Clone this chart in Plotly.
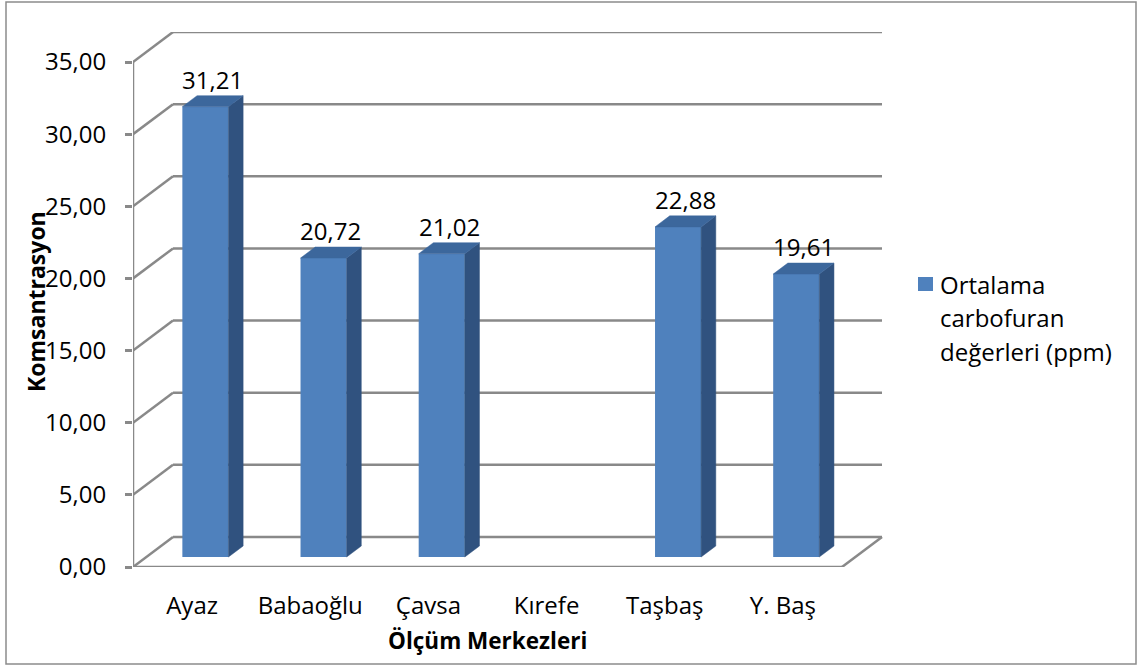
import plotly.graph_objects as go

# ---- data -------------------------------------------------------------
stations = ["Ayaz", "Babaoğlu", "Çavsa", "Kırefe", "Taşbaş", "Y. Baş"]
carbofuran = [31.21, 20.72, 21.02, None, 22.88, 19.61]
y_ticks = [0, 5, 10, 15, 20, 25, 30, 35]
legend_lines = ["Ortalama", "carbofuran", "değerleri (ppm)"]

# ---- pseudo-3D projection (axis units) ---------------------------------
PX_PER_CAT = 709 / 6          # horizontal pixels per category on the front plane
PX_PER_UNIT = 505 / 35        # vertical pixels per value unit
DEPTH_X = 40 / PX_PER_CAT     # shift of the back wall, x
DEPTH_Y = 30 / PX_PER_UNIT    # shift of the back wall, y
BAR_FRONT = 0.333             # depth fraction of bar front faces
BAR_BACK = 0.70               # depth fraction of bar back faces
BAR_W = 0.39                  # bar width in category units

# plot area in pixels
L, R, T, B = 133, 883, 32, 567


def px_x(p):
    return (p - L) / (R - L)


def px_y(p):
    return (B - p) / (B - T)


FONT = "Open Sans"
GRID = "#898989"
FRONT = "#4F81BD"
SIDE = "#30527F"
TOP = "#3C679C"

n = len(stations)
fx, fy = BAR_FRONT * DEPTH_X, BAR_FRONT * DEPTH_Y
bdx, bdy = (BAR_BACK - BAR_FRONT) * DEPTH_X, (BAR_BACK - BAR_FRONT) * DEPTH_Y

fig = go.Figure()

# front faces
xs = [i + 0.5 + fx for i in range(n)]
fig.add_trace(go.Bar(
    x=xs, y=carbofuran, base=fy, width=BAR_W,
    marker=dict(color=FRONT, line=dict(width=0)),
    name=" ".join(legend_lines), showlegend=False, hoverinfo="skip",
))

# side and top faces
side_x, side_y, top_x, top_y = [], [], [], []
for xc, v in zip(xs, carbofuran):
    if v is None:
        continue
    xl, xr = xc - BAR_W / 2, xc + BAR_W / 2
    y0, y1 = fy, fy + v
    side_x += [xr, xr, xr + bdx, xr + bdx, xr, None]
    side_y += [y0, y1, y1 + bdy, y0 + bdy, y0, None]
    top_x += [xl, xr, xr + bdx, xl + bdx, xl, None]
    top_y += [y1, y1, y1 + bdy, y1 + bdy, y1, None]

fig.add_trace(go.Scatter(x=side_x, y=side_y, mode="lines", fill="toself",
                         fillcolor=SIDE, line=dict(width=0.5, color=SIDE),
                         showlegend=False, hoverinfo="skip"))
fig.add_trace(go.Scatter(x=top_x, y=top_y, mode="lines", fill="toself",
                         fillcolor=TOP, line=dict(width=0.5, color=TOP),
                         showlegend=False, hoverinfo="skip"))

# walls, floor and gridlines
shapes = []
line = dict(color=GRID, width=2.5)
for t in y_ticks:
    shapes.append(dict(type="line", xref="x", yref="y", layer="below",
                       x0=0, y0=t, x1=DEPTH_X, y1=t + DEPTH_Y, line=line))
    shapes.append(dict(type="line", xref="x", yref="y", layer="below",
                       x0=DEPTH_X, y0=t + DEPTH_Y, x1=n + DEPTH_X, y1=t + DEPTH_Y,
                       line=line))
shapes.append(dict(type="line", xref="x", yref="y", layer="below",
                   x0=0, y0=0, x1=n, y1=0, line=line))
shapes.append(dict(type="line", xref="x", yref="y", layer="below",
                   x0=n, y0=0, x1=n + DEPTH_X, y1=DEPTH_Y, line=line))
shapes.append(dict(type="line", xref="x", yref="y", layer="below",
                   x0=0, y0=0, x1=0, y1=max(y_ticks), line=line))
# chart frame
shapes.append(dict(type="rect", xref="paper", yref="paper",
                   x0=px_x(6), x1=px_x(1136), y0=px_y(664), y1=px_y(2),
                   line=dict(color="#8C8C8C", width=1.5)))
# legend key
shapes.append(dict(type="rect", xref="paper", yref="paper",
                   x0=px_x(918), x1=px_x(933), y0=px_y(291), y1=px_y(277),
                   fillcolor=FRONT, line=dict(width=0)))

annotations = []
# value labels
for xc, v in zip(xs, carbofuran):
    if v is None:
        continue
    annotations.append(dict(
        x=xc + bdx / 2, y=fy + v, xref="x", yref="y",
        text=f"{v:.2f}".replace(".", ","), showarrow=False,
        yanchor="bottom", yshift=9, font=dict(family=FONT, size=24, color="#000"),
    ))

# legend text
for k, txt in enumerate(legend_lines):
    annotations.append(dict(
        x=px_x(938), y=px_y(284 + 33.5 * k), xref="paper", yref="paper",
        text=txt, showarrow=False, xanchor="left", yanchor="middle",
        font=dict(family=FONT, size=24, color="#000"),
    ))

# axis titles
annotations.append(dict(
    x=n / 2, y=px_y(641), xref="x", yref="paper",
    text="<b>Ölçüm Merkezleri</b>", showarrow=False, yanchor="middle",
    font=dict(family=FONT, size=22.5, color="#000"),
))
annotations.append(dict(
    x=px_x(36), y=px_y(302), xref="paper", yref="paper",
    text="<b>Komsantrasyon</b>", showarrow=False, textangle=-90,
    xanchor="center", yanchor="middle",
    font=dict(family=FONT, size=23, color="#000"),
))

fig.update_layout(
    width=1141, height=671, autosize=False,
    margin=dict(l=L, r=1141 - R, t=T, b=671 - B),
    paper_bgcolor="white", plot_bgcolor="white",
    separators=",.",
    font=dict(family=FONT, size=24, color="#000"),
    shapes=shapes, annotations=annotations,
    barmode="overlay",
    showlegend=False,
    xaxis=dict(range=[0, (R - L) / PX_PER_CAT], showgrid=False, zeroline=False,
               showline=False, tickvals=[i + 0.5 for i in range(n)],
               ticktext=stations, ticks="", ticklabelstandoff=22,
               tickfont=dict(family=FONT, size=24, color="#000"), fixedrange=True),
    yaxis=dict(range=[0, (B - T) / PX_PER_UNIT], showgrid=False, zeroline=False,
               showline=False, tickvals=y_ticks, tickformat=".2f",
               ticks="outside", ticklen=7, tickwidth=2.5, tickcolor=GRID,
               ticklabelstandoff=14,
               tickfont=dict(family=FONT, size=24, color="#000"), fixedrange=True),
)

fig.write_html("out.html")
